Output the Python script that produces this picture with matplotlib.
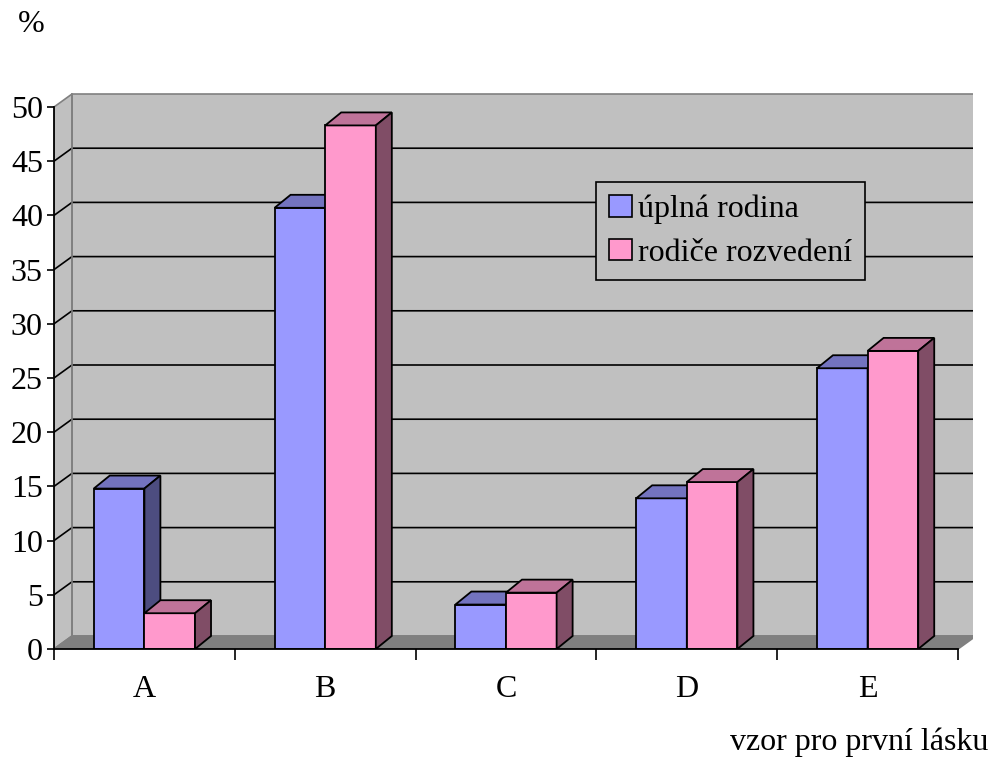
import numpy as np
import matplotlib.pyplot as plt
from matplotlib.patches import Polygon, Patch

plt.rcParams['font.family'] = ['Liberation Serif', 'DejaVu Serif']

# data
kategorie = ['A', 'B', 'C', 'D', 'E']
uplna = [14.8, 40.7, 4.1, 13.9, 25.9]
rozvedeni = [3.3, 48.3, 5.2, 15.4, 27.5]
serie = ['úplná rodina', 'rodiče rozvedení']

# barvy (predni, vrch, bok)
modra = ('#9999FF', '#7373BF', '#4D4D80')
ruzova = ('#FF99CC', '#BF7399', '#804D66')

W, H = 991, 758
px_x = 180.8   # px na kategorii
px_y = 10.84   # px na jednotku
fs = 23
fig = plt.figure(figsize=(W / 100, H / 100), dpi=100)
ax = fig.add_axes([54 / W, 109 / H, 919 / W, 556 / H])
ax.set_xlim(-0.5, -0.5 + 919 / px_x)
ax.set_ylim(0, 556 / px_y)

dx = 18 / px_x
dy = 13 / px_y
bdx = 16 / px_x
sirka = 0.28
n = len(kategorie)
x0, x1 = -0.5, n - 0.5
ymax = 50

# steny
zadni = Polygon([(x0 + dx, dy), (x1 + dx, dy), (x1 + dx, ymax + dy), (x0 + dx, ymax + dy)],
                closed=True, fc='#C0C0C0', ec='#808080', lw=1.2, zorder=0.5)
bocni = Polygon([(x0, 0), (x0 + dx, dy), (x0 + dx, ymax + dy), (x0, ymax)],
                closed=True, fc='#C0C0C0', ec='#808080', lw=1.2, zorder=0.5)
podlaha = Polygon([(x0, 0), (x1, 0), (x1 + dx, dy), (x0 + dx, dy)],
                  closed=True, fc='#808080', ec='#808080', lw=1.2, zorder=0.6)
for p in (zadni, bocni, podlaha):
    ax.add_patch(p)

# mrizka
for k in range(5, ymax, 5):
    ax.plot([x0, x0 + dx, x1 + dx], [k, k + dy, k + dy], color='black', lw=1.2, zorder=1)
ax.plot([x0 + dx, x0 + dx], [dy, ymax + dy], color='#808080', lw=1.2, zorder=1)


def sloupec(x, h, barvy, z):
    ax.bar(x, h, width=sirka, align='edge', color=barvy[0], edgecolor='black', lw=1.3, zorder=z)
    vrch = Polygon([(x, h), (x + sirka, h), (x + sirka + bdx, h + dy), (x + bdx, h + dy)],
                   closed=True, fc=barvy[1], ec='black', lw=1.3, zorder=z)
    bok = Polygon([(x + sirka, 0), (x + sirka + bdx, dy), (x + sirka + bdx, h + dy), (x + sirka, h)],
                  closed=True, fc=barvy[2], ec='black', lw=1.3, zorder=z)
    ax.add_patch(vrch)
    ax.add_patch(bok)


for i in range(n):
    sloupec(i - sirka, uplna[i], modra, 2 + i * 0.1)
    sloupec(i, rozvedeni[i], ruzova, 2.05 + i * 0.1)

# osy
for s in ('top', 'right'):
    ax.spines[s].set_visible(False)
ax.spines['left'].set_bounds(0, ymax)
ax.spines['bottom'].set_bounds(x0, x1)
for s in ('left', 'bottom'):
    ax.spines[s].set_linewidth(1.3)
    ax.spines[s].set_zorder(3)

ax.set_yticks(np.arange(0, ymax + 1, 5))
ax.tick_params(axis='y', direction='out', length=5, width=1.2, labelsize=fs, pad=3)
ax.set_xticks(range(n))
ax.set_xticklabels(kategorie)
ax.set_xticks(np.arange(x0, x1 + 0.01, 1), minor=True)
ax.tick_params(axis='x', which='major', length=0, labelsize=fs, pad=19)
ax.tick_params(axis='x', which='minor', direction='out', length=8, width=1.2)

# legenda
handles = [Patch(fc=modra[0], ec='black', lw=1.2), Patch(fc=ruzova[0], ec='black', lw=1.2)]
leg = fig.legend(handles, serie, loc='upper left', bbox_to_anchor=(596 / W, 1 - 182 / H),
                 fontsize=fs, frameon=True, fancybox=False, framealpha=1,
                 facecolor='#C0C0C0', edgecolor='black', handlelength=0.72, handleheight=0.66,
                 handletextpad=0.2, labelspacing=0.45, borderpad=0.4, borderaxespad=0)
leg.get_frame().set_linewidth(1.2)

fig.text(31 / W, 1 - 24 / H, '%', fontsize=fs, ha='center', va='center')
fig.text(988 / W, 1 - 742 / H, 'vzor pro první lásku', fontsize=fs, ha='right', va='center')

fig.savefig('out.png', dpi=100)
